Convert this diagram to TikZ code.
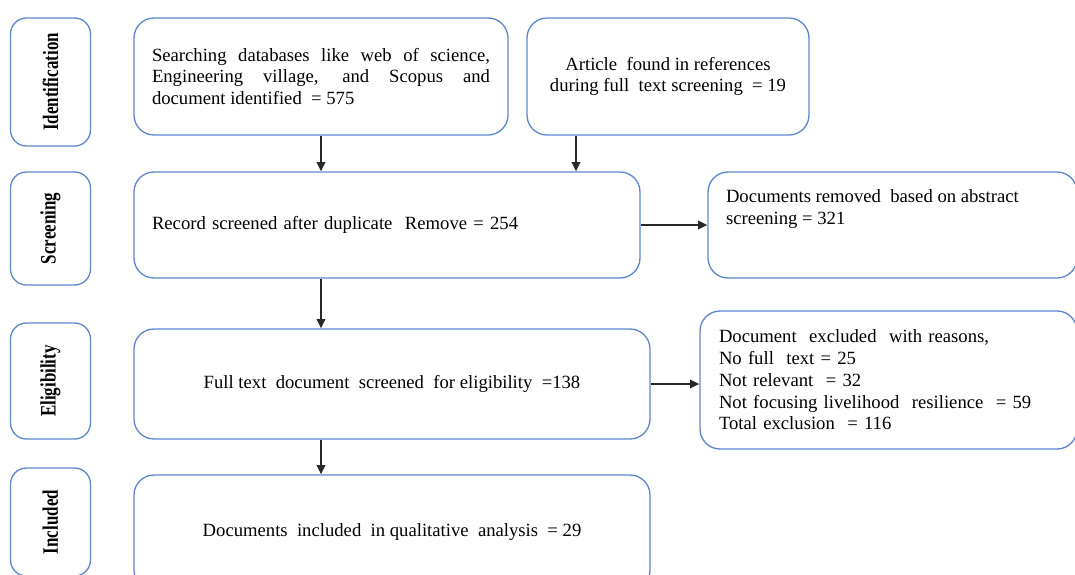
\documentclass[tikz,border=0pt]{standalone}
\usepackage{fontspec}
\setmainfont{Liberation Serif}
\usepackage{graphicx}
\usetikzlibrary{arrows.meta}
\hyphenpenalty=10000
\exhyphenpenalty=10000
\definecolor{frameblue}{RGB}{95,135,205}
\definecolor{arrowgray}{RGB}{40,40,40}
\tikzset{
  box/.style={draw=frameblue, line width=1pt, rounded corners=15pt, inner sep=0pt,
    font=\fontsize{14pt}{16.3pt}\selectfont},
  stagebox/.style={draw=frameblue, line width=1pt, rounded corners=12pt, inner sep=0pt,
    minimum width=60pt},
  flow/.style={draw=arrowgray, line width=1.1pt, -{Triangle[length=7pt,width=6.5pt]}},
}
% vertical, condensed bold caption of a stage
\newcommand{\stagetext}[1]{\rotatebox{90}{\fontsize{16.5pt}{18pt}\selectfont\bfseries\scalebox{0.77}[1]{#1}}}

\begin{document}
\begin{tikzpicture}[x=0.75pt,y=-0.75pt]
\useasboundingbox (0,0) rectangle (1075,575);
\clip (0,0) rectangle (1075,575);

% stage captions
\node[stagebox, minimum height=96pt]    (sid) at (50.5,82)    {\stagetext{Identification}};
\node[stagebox, minimum height=84.75pt] (ssc) at (50.5,228.5) {\stagetext{Screening}};
\node[stagebox, minimum height=87pt]    (sel) at (50.5,381)   {\stagetext{Eligibility}};
\node[stagebox, minimum height=81pt]    (sin) at (50.5,522)   {\stagetext{Included}};

% identification
\node[box, minimum width=280.5pt, minimum height=87.75pt, inner xsep=13.5pt,
      text width=253.5pt, align=justify] (search) at (321,76.5)
  {Searching databases like web of science, Engineering village, and Scopus and document identified\ \ = 575};
\node[box, minimum width=211.5pt, minimum height=87.75pt, align=center] (article) at (668,76.5)
  {Article\ \ found in references\\during full\ \ text screening\ \ = 19};

% screening
\node[box, minimum width=379.5pt, minimum height=79.5pt, inner xsep=13.5pt,
      text width=352.5pt, align=left] (screen) at (387,225)
  {Record screened after duplicate\ \ Remove = 254};
\node[box, minimum width=276.75pt, minimum height=79.5pt] (removed) at (892.5,225)
  {\parbox[c][79.5pt][t]{249.75pt}{\vspace*{13.5pt}Documents removed\ \ based on abstract\\screening = 321}};

% eligibility
\node[box, minimum width=387pt, minimum height=82.5pt, align=center] (elig) at (392,384)
  {Full text\ \ document\ \ screened\ \ for eligibility\ \ =138};
\node[box, minimum width=282.75pt, minimum height=103.5pt, inner xsep=14.25pt,
      text width=254.25pt, align=left] (excl) at (888.5,380)
  {Document\ \ excluded\ \ with reasons,\\No full\ \ text = 25\\Not relevant\ \ = 32\\Not focusing livelihood\ \ resilience\ \ = 59\\Total exclusion\ \ = 116};

% included
\node[box, minimum width=387pt, minimum height=86.25pt, align=center] (incl) at (392,532.5)
  {Documents\ \ included\ \ in qualitative\ \ analysis\ \ = 29};

% flow
\draw[flow] (search.south) -- (search.south |- screen.north);
\draw[flow] ([xshift=-69pt]article.south) -- ([xshift=-69pt]article.south |- screen.north);
\draw[flow] (screen.east) -- (removed.west);
\draw[flow] ([xshift=-49.5pt]screen.south) -- ([xshift=-49.5pt]screen.south |- elig.north);
\draw[flow] (elig.east) -- (elig.east -| excl.west);
\draw[flow] ([xshift=-53.25pt]elig.south) -- ([xshift=-53.25pt]elig.south |- incl.north);
\end{tikzpicture}
\end{document}
